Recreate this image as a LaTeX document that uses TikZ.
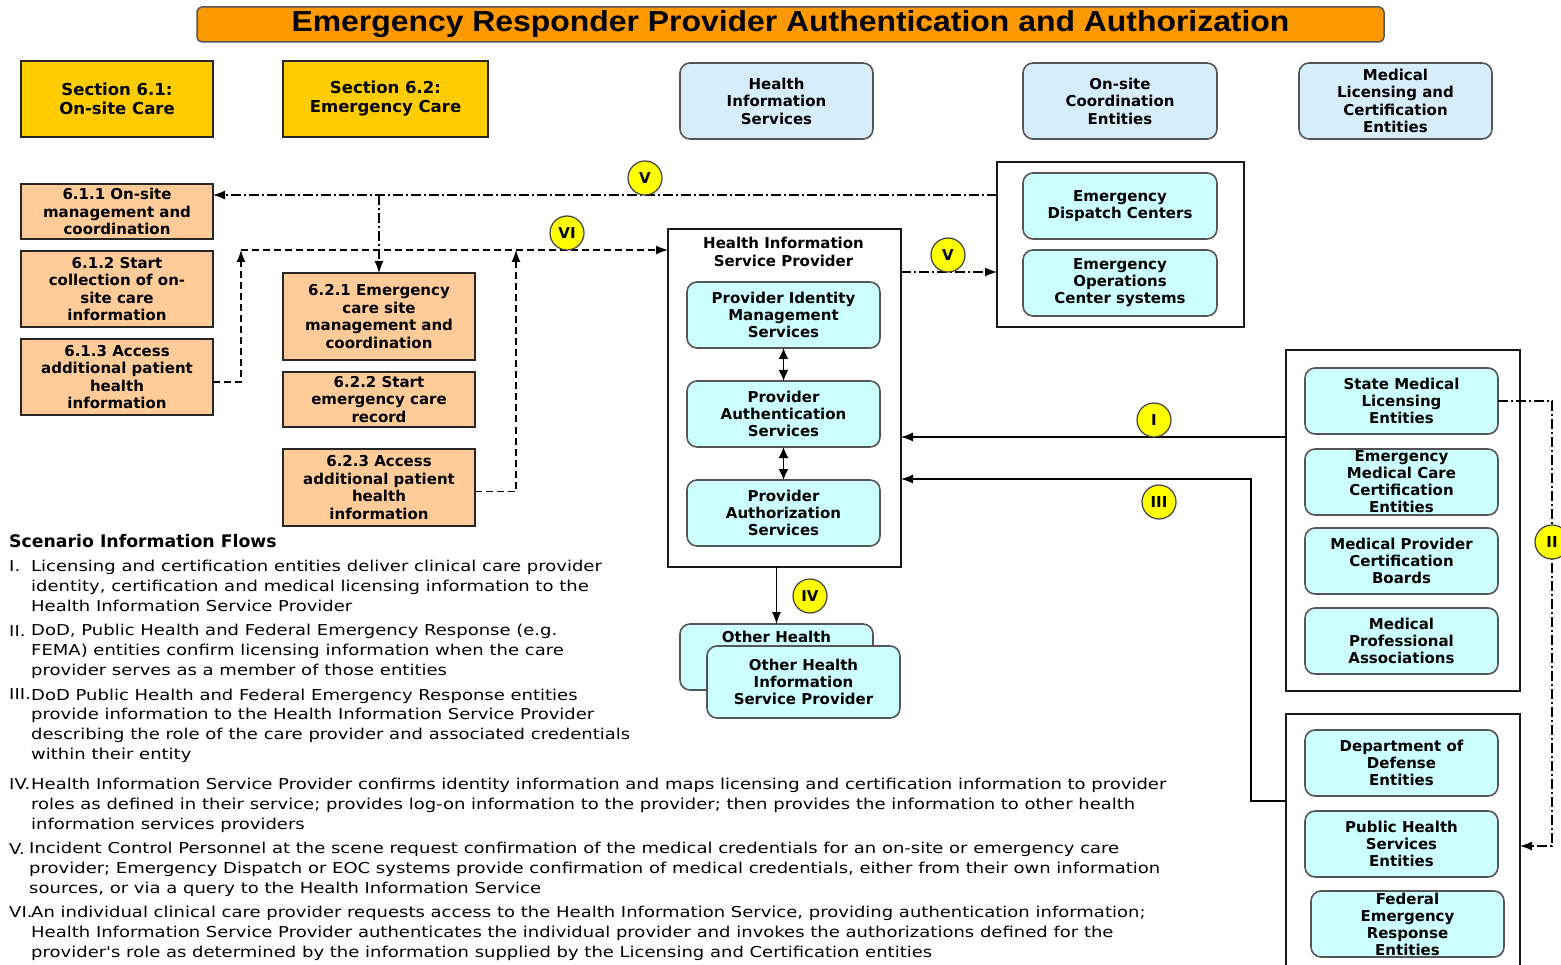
\documentclass[tikz,border=0pt]{standalone}
\usepackage{fontspec}
\setmainfont{Liberation Sans}
\newfontfamily\dv{DejaVu Sans}
\newfontfamily\ttl[FakeStretch=1.1]{Liberation Sans}
\newfontfamily\legA[FakeStretch=1.2]{DejaVu Sans}
\newfontfamily\legB[FakeStretch=1.2]{DejaVu Sans}
\usetikzlibrary{arrows.meta,shapes.geometric}
\definecolor{titleor}{RGB}{255,153,0}
\definecolor{secgold}{RGB}{255,204,0}
\definecolor{peach}{RGB}{255,204,153}
\definecolor{skyb}{RGB}{214,238,251}
\definecolor{cyanl}{RGB}{204,255,255}
\definecolor{edgeg}{RGB}{85,85,85}
\definecolor{circy}{RGB}{255,255,0}
\tikzset{
  bx/.style={align=center, inner sep=0pt, outer sep=0pt},
  titlebox/.style={bx, draw=edgeg, line width=1.5pt, fill=titleor, rounded corners=5pt,
    font=\ttl\bfseries\fontsize{29}{31}\selectfont},
  secbox/.style={bx, draw=black!85, line width=1.3pt, fill=secgold,
    font=\dv\bfseries\fontsize{16.5}{19}\selectfont},
  skybox/.style={bx, draw=edgeg, line width=1.6pt, fill=skyb, rounded corners=10pt,
    font=\dv\bfseries\fontsize{15}{17.5}\selectfont},
  peachbox/.style={bx, draw=black!85, line width=1.3pt, fill=peach,
    font=\dv\bfseries\fontsize{15}{17.5}\selectfont},
  cyanbox/.style={bx, draw=edgeg, line width=1.6pt, fill=cyanl, rounded corners=10pt,
    font=\dv\bfseries\fontsize{15}{17}\selectfont},
  container/.style={bx, draw=black!90, line width=1.2pt, fill=white},
  circ/.style={circle, draw=black!75, line width=1.2pt, fill=circy, minimum size=34pt,
    inner sep=0pt, font=\dv\bfseries\fontsize{15}{17}\selectfont},
  conn/.style={line width=1.2pt, -{Latex[length=12pt,width=9pt]}},
  ddot/.style={conn, dash pattern=on 10pt off 3pt on 2pt off 3pt},
  dsh/.style={conn, dash pattern=on 7pt off 4pt},
  dbl/.style={line width=1.8pt, {Latex[length=11pt,width=10pt]}-{Latex[length=11pt,width=10pt]}},
  legtitle/.style={anchor=base west, inner sep=0pt, font=\dv\bfseries\fontsize{17.3}{19}\selectfont},
  legnum/.style={anchor=base west, inner sep=0pt, align=left},
  legbody/.style={anchor=base west, inner sep=0pt, align=left},
}
\begin{document}
\begin{tikzpicture}[x=1pt,y=-1pt]
\useasboundingbox (0,0) rectangle (1561,965);
\fill[white] (0,0) rectangle (1561,965);

% title
\node[titlebox, minimum width=1187pt, minimum height=35pt] (title) at (790.5,24.5)
  {Emergency Responder Provider Authentication and Authorization};

% header boxes
\node[secbox, minimum width=192pt, minimum height=76pt] (sec61) at (117,99) {Section 6.1:\\On-site Care};
\node[secbox, minimum width=205pt, minimum height=76pt] (sec62) at (385.5,99) {Section 6.2:\\Emergency Care};
\node[skybox, minimum width=193pt, minimum height=76pt] (his) at (776.5,101) {Health\\Information\\Services};
\node[skybox, minimum width=194pt, minimum height=76pt] (oce) at (1120,101) {On-site\\Coordination\\Entities};
\node[skybox, minimum width=193pt, minimum height=76pt] (mlce) at (1395.5,101) {Medical\\Licensing and\\Certification\\Entities};

% peach boxes
\node[peachbox, minimum width=192pt, minimum height=55pt] (n611) at (117,211.5) {6.1.1 On-site\\management and\\coordination};
\node[peachbox, minimum width=192pt, minimum height=76pt] (n612) at (117,289) {6.1.2 Start\\collection of on-\\site care\\information};
\node[peachbox, minimum width=192pt, minimum height=76pt] (n613) at (117,377) {6.1.3 Access\\additional patient\\health\\information};
\node[peachbox, minimum width=192pt, minimum height=87pt] (n621) at (379,316.5) {6.2.1 Emergency\\care site\\management and\\coordination};
\node[peachbox, minimum width=192pt, minimum height=55pt] (n622) at (379,399.5) {6.2.2 Start\\emergency care\\record};
\node[peachbox, minimum width=192pt, minimum height=77pt] (n623) at (379,487.5) {6.2.3 Access\\additional patient\\health\\information};

% HISP container
\node[container, minimum width=233pt, minimum height=338pt] (hisp) at (784.5,398) {};
\node[bx, font=\dv\bfseries\fontsize{15}{17.5}\selectfont] (hisptitle) at (783.5,252) {Health Information\\Service Provider};
\node[cyanbox, minimum width=193pt, minimum height=66pt] (pims) at (783.5,315) {Provider Identity\\Management\\Services};
\node[cyanbox, minimum width=193pt, minimum height=66pt] (pas) at (783.5,414) {Provider\\Authentication\\Services};
\node[cyanbox, minimum width=193pt, minimum height=66pt] (pazs) at (783.5,513) {Provider\\Authorization\\Services};

% Emergency container
\node[container, minimum width=247pt, minimum height=165pt] (emc) at (1120.5,244.5) {};
\node[cyanbox, minimum width=194pt, minimum height=66pt] (edc) at (1120,206) {Emergency\\Dispatch Centers};
\node[cyanbox, minimum width=194pt, minimum height=66pt] (eoc) at (1120,283) {Emergency\\Operations\\Center systems};

% Licensing container
\node[container, minimum width=234pt, minimum height=341pt] (lic) at (1403,520.5) {};
\node[cyanbox, minimum width=193pt, minimum height=66pt] (sml) at (1401.5,401) {State Medical\\Licensing\\Entities};
\node[cyanbox, minimum width=193pt, minimum height=66pt] (emcc) at (1401.5,482) {Emergency\\Medical Care\\Certification\\Entities};
\node[cyanbox, minimum width=193pt, minimum height=66pt] (mpcb) at (1401.5,561) {Medical Provider\\Certification\\Boards};
\node[cyanbox, minimum width=193pt, minimum height=66pt] (mpa) at (1401.5,641) {Medical\\Professional\\Associations};

% Federal container
\node[container, minimum width=234pt, minimum height=256pt] (fed) at (1403,842) {};
\node[cyanbox, minimum width=193pt, minimum height=66pt] (dod) at (1401.5,763) {Department of\\Defense\\Entities};
\node[cyanbox, minimum width=193pt, minimum height=66pt] (phs) at (1401.5,844) {Public Health\\Services\\Entities};
\node[cyanbox, minimum width=193pt, minimum height=66pt] (fema) at (1407.5,924) {Federal\\Emergency\\Response\\Entities};

% Other health providers
\node[cyanbox, minimum width=193pt, minimum height=66pt,
  label={[bx, font=\dv\bfseries\fontsize{15}{17}\selectfont, anchor=north, yshift=-7pt]north:Other Health}] (ohb) at (776.5,657) {};
\node[cyanbox, minimum width=193pt, minimum height=72pt] (ohf) at (803.5,682) {Other Health\\Information\\Service Provider};

% coordinates for connectors
\coordinate (yV) at (0,195);
\coordinate (yVb) at (0,272);
\coordinate (cA) at (241,250);
\coordinate (cB) at (516,250);
\coordinate (yI) at (0,437);
\coordinate (cC) at (1251,479);
\coordinate (cD) at (1251,801);
\coordinate (cE) at (1552,401);
\coordinate (cF) at (1552,846);

% flow V
\draw[ddot] (emc.west |- yV) -- (n611.east |- yV);
\draw[ddot] (n621.north |- yV) -- (n621.north);
\draw[ddot] (hisp.east |- yVb) -- (emc.west |- yVb);
% flow VI
\draw[dsh] ([yshift=-5pt]n613.east) -- ([yshift=-5pt]n613.east -| cA) -- (cA);
\draw[dsh] ([yshift=-4pt]n623.east) -- ([yshift=-4pt]n623.east -| cB) -- (cB);
\draw[dsh] (cA) -- (hisp.west |- cA);
% flow I
\draw[conn] (lic.west |- yI) -- (hisp.east |- yI);
% flow III
\draw[conn] (fed.west |- cD) -- (cD) -- (cC) -- (hisp.east |- cC);
% flow II
\draw[ddot] (sml.east) -- (cE) -- (cF) -- (fed.east |- cF);
% flow IV
\draw[conn] (ohb.north |- hisp.south) -- (ohb.north);
% internal
\draw[dbl] (pims) -- (pas);
\draw[dbl] (pas) -- (pazs);

% circles
\node[circ] (cV1) at (645,178) {V};
\node[circ] (cVI) at (567,233) {VI};
\node[circ] (cV2) at (948,255) {V};
\node[circ] (cI) at (1154,420) {I};
\node[circ] (cIII) at (1159,502) {III};
\node[circ] (cII) at (1552,542) {II};
\node[circ] (cIV) at (810,596) {IV};

% legend
\node[legtitle] (lt) at (9,547) {Scenario Information Flows};
\begin{scope}[every node/.append style={font=\legA\fontsize{15}{19.8}\selectfont}]
\node[legnum] (l1n) at (9,571.5) {I.};
\node[legbody] (l1) at (31,611.5) {Licensing and certification entities deliver clinical care provider\\identity, certification and medical licensing information to the\\Health Information Service Provider};
\node[legnum] (l2n) at (9,636) {II.};
\node[legbody] (l2) at (31,675.5) {DoD, Public Health and Federal Emergency Response (e.g.\\FEMA) entities confirm licensing information when the care\\provider serves as a member of those entities};
\node[legnum] (l3n) at (9,699.5) {III.};
\node[legbody] (l3) at (31,759.5) {DoD Public Health and Federal Emergency Response entities\\provide information to the Health Information Service Provider\\describing the role of the care provider and associated credentials\\within their entity};
\end{scope}
\begin{scope}[every node/.append style={font=\legB\fontsize{15}{19.8}\selectfont}]
\node[legnum] (l4n) at (9,789.5) {IV.};
\node[legbody] (l4) at (31,829.5) {Health Information Service Provider confirms identity information and maps licensing and certification information to provider\\roles as defined in their service; provides log-on information to the provider; then provides the information to other health\\information services providers};
\node[legnum] (l5n) at (9,854) {V.};
\node[legbody] (l5) at (29,893.5) {Incident Control Personnel at the scene request confirmation of the medical credentials for an on-site or emergency care\\provider; Emergency Dispatch or EOC systems provide confirmation of medical credentials, either from their own information\\sources, or via a query to the Health Information Service};
\node[legnum] (l6n) at (9,917.5) {VI.};
\node[legbody] (l6) at (31,957.5) {An individual clinical care provider requests access to the Health Information Service, providing authentication information;\\Health Information Service Provider authenticates the individual provider and invokes the authorizations defined for the\\provider's role as determined by the information supplied by the Licensing and Certification entities};
\end{scope}
\end{tikzpicture}
\end{document}
